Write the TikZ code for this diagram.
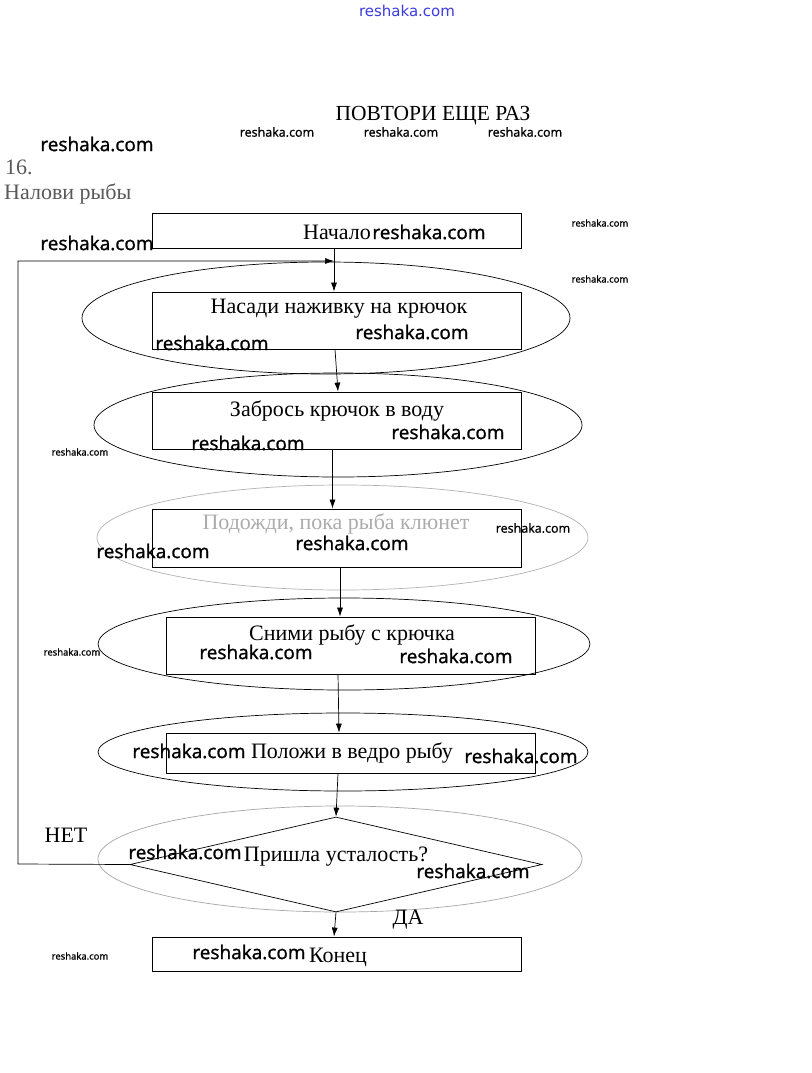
\documentclass[tikz,border=0pt]{standalone}
\usepackage{fontspec}
\setmainfont{Liberation Serif}
\newfontfamily\wmfont[FakeBold=1.2]{Open Sans}
\newfontfamily\topfont{DejaVu Sans}
\usetikzlibrary{shapes.geometric,arrows.meta}
\definecolor{topblue}{RGB}{60,60,225}
\begin{document}
\begin{tikzpicture}[x=1pt,y=-1pt,
  box/.style={draw, rectangle, line width=0.8pt, inner sep=0pt, minimum width=369pt},
  ell/.style={draw, ellipse, line width=0.7pt, inner sep=0pt},
  txt/.style={font=\fontsize{22}{26}\selectfont, inner sep=0pt},
  wmL/.style={font=\wmfont\fontsize{19}{22}\selectfont, inner sep=0pt},
  wmS/.style={font=\wmfont\fontsize{12.5}{15}\selectfont, inner sep=0pt},
  wmT/.style={font=\wmfont\fontsize{9.5}{11}\selectfont, inner sep=0pt},
  arr/.style={-{Latex[length=9pt,width=6pt]}, line width=0.7pt}]
\useasboundingbox (0,0) rectangle (811,1073);
\fill[white] (0,0) rectangle (811,1073);

% ellipses
\node[ell, minimum width=488pt, minimum height=112pt] (e1) at (326,318) {};
\node[ell, minimum width=488pt, minimum height=104pt] (e2) at (338,425) {};
\node[ell, draw=gray!60, minimum width=491pt, minimum height=105pt] (e3) at (342.5,537.5) {};
\node[ell, minimum width=492pt, minimum height=92pt] (e4) at (344,644) {};
\node[ell, minimum width=490pt, minimum height=78pt] (e5) at (343,752) {};
\node[ell, draw=gray!70, minimum width=484pt, minimum height=106pt] (e6) at (340,859) {};

% boxes
\node[box, minimum height=35pt] (start) at (336.5,230.5) {};
\node[box, minimum height=57pt] (b2) at (336.5,320.5) {};
\node[box, minimum height=57pt] (b3) at (336.5,420.5) {};
\node[box, minimum height=58pt] (b4) at (336.5,538) {};
\node[box, minimum height=57pt] (b5) at (351,645.5) {};
\node[box, minimum height=40pt] (b6) at (351,753) {};
\node[box, minimum height=34pt] (end) at (336.5,954) {};
\node[draw, diamond, line width=0.7pt, inner sep=0pt, minimum width=412pt, minimum height=95pt] (dia) at (336,864.5) {};

% connectors
\draw[arr] ([xshift=-2.5pt]start.south) -- ([xshift=-2.5pt]b2.north);
\draw[arr] ([xshift=-1.5pt]b2.south) -- ([xshift=1.5pt]b3.north);
\draw[arr] ([xshift=-4pt]b3.south) -- ([xshift=-4pt]b4.north);
\draw[arr] ([xshift=3.5pt]b4.south) -- ([xshift=-11pt]b5.north);
\draw[arr] ([xshift=-13pt]b5.south) -- ([xshift=-12pt]b6.north);
\draw[arr] ([xshift=-13pt]b6.south) -- (dia.north);
\draw[arr] (dia.south) -- ([xshift=-2.5pt]end.north);
\coordinate (lc) at (18,864);
\coordinate (lt) at (334,261);
\draw[arr] (dia.west) -- (lc) |- (lt);

% texts
\node[txt, font=\fontsize{21.5}{25}\selectfont] (title) at (433,116) {ПОВТОРИ ЕЩЕ РАЗ};
\node[txt, anchor=west, text=gray!70!black] (num) at (5,167) {16.};
\node[txt, anchor=west, text=gray!70!black] (task) at (4,194) {Налови рыбы};
\node[txt] (t1) at (337,232) {Начало};
\node[txt] (t2) at (339,309) {Насади наживку на крючок};
\node[txt] (t3) at (337,411) {Забрось крючок в воду};
\node[txt, text=gray!65] (t4) at (336,524) {Подожди, пока рыба клюнет};
\node[txt] (t5) at (352,635) {Сними рыбу с крючка};
\node[txt] (t6) at (352,753) {Положи в ведро рыбу};
\node[txt] (t7) at (336,857) {Пришла усталость?};
\node[txt] (t8) at (338,957) {Конец};
\node[txt] (no) at (66,835) {НЕТ};
\node[txt] (yes) at (408,920) {ДА};

% watermarks
\node[font=\topfont\fontsize{15}{18}\selectfont, text=topblue, inner sep=0pt] (wtop) at (407,11) {reshaka.com};
\node[wmS] (w1) at (277,132) {reshaka.com};
\node[wmS] (w2) at (401,132) {reshaka.com};
\node[wmS] (w3) at (525,132) {reshaka.com};
\node[wmL] (w4) at (97,144) {reshaka.com};
\node[wmL] (w5) at (429,232) {reshaka.com};
\node[wmL] (w6) at (97,243) {reshaka.com};
\node[wmT] (w7) at (600,223) {reshaka.com};
\node[wmT] (w8) at (600,279) {reshaka.com};
\node[wmL] (w9) at (412,332) {reshaka.com};
\node[wmL] (w10) at (212,343) {reshaka.com};
\node[wmL] (w11) at (448,432) {reshaka.com};
\node[wmL] (w12) at (248,443) {reshaka.com};
\node[wmT] (w13) at (80,452) {reshaka.com};
\node[wmS] (w14) at (533,528) {reshaka.com};
\node[wmL] (w15) at (352,543) {reshaka.com};
\node[wmL] (w16) at (153,551) {reshaka.com};
\node[wmT] (w17) at (72,652) {reshaka.com};
\node[wmL] (w18) at (256,652) {reshaka.com};
\node[wmL] (w19) at (456,656) {reshaka.com};
\node[wmL] (w20) at (189,751) {reshaka.com};
\node[wmL] (w21) at (521,756) {reshaka.com};
\node[wmL] (w22) at (185,852) {reshaka.com};
\node[wmL] (w23) at (473,871) {reshaka.com};
\node[wmL] (w24) at (249,952) {reshaka.com};
\node[wmT] (w25) at (80,956) {reshaka.com};
\end{tikzpicture}
\end{document}
